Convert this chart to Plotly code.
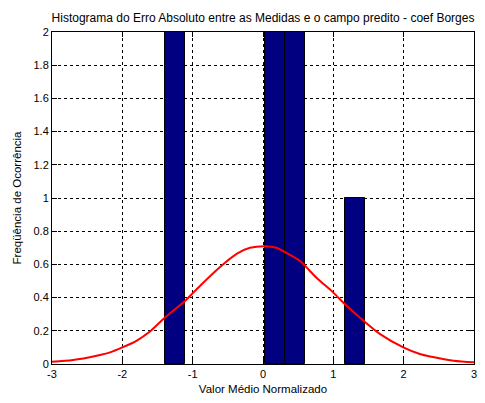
import plotly.graph_objects as go

# Histogram bins (centers) and counts
bin_centers = [-1.251, -0.967, -0.682, -0.398, -0.114, 0.171, 0.455, 0.739, 1.024, 1.308]
counts = [2, 0, 0, 0, 0, 2, 2, 0, 0, 1]
bin_width = 0.2843

# Fitted curve
curve_x = [-3.0, -2.70, -2.365, -2.175, -2.0, -1.80, -1.607, -1.393, -1.109, -0.99, -0.85, -0.61,
           -0.37, -0.185, 0.03, 0.19, 0.33, 0.526, 0.76, 1.0, 1.166, 1.43, 1.665, 1.995, 2.23,
           2.375, 2.71, 3.0]
curve_y = [0.014, 0.024, 0.05, 0.07, 0.10, 0.14, 0.196, 0.28, 0.38, 0.43, 0.49, 0.585,
           0.665, 0.70, 0.71, 0.70, 0.67, 0.62, 0.52, 0.43, 0.36, 0.26, 0.18, 0.10, 0.06,
           0.045, 0.02, 0.01]

x_ticks = [-3, -2, -1, 0, 1, 2, 3]
y_ticks = [0, 0.2, 0.4, 0.6, 0.8, 1, 1.2, 1.4, 1.6, 1.8, 2]

FONT = "Liberation Sans, Arial"

fig = go.Figure()
fig.add_trace(go.Bar(x=bin_centers, y=counts, width=bin_width,
                     marker=dict(color="#000080",
                                 line=dict(color="black",
                                           width=[1 if c > 0 else 0 for c in counts]))))
fig.add_trace(go.Scatter(x=curve_x, y=curve_y, mode="lines",
                         line=dict(color="#ff0000", width=2, shape="spline", smoothing=0.8)))

axis_common = dict(showline=True, linecolor="black", linewidth=1, mirror="ticks",
                   ticks="inside", ticklen=5, tickcolor="black", automargin=False,
                   ticklabeloverflow="allow",
                   showgrid=True, gridcolor="black", gridwidth=1, griddash="3px,3px",
                   zeroline=False, tickfont=dict(family=FONT, size=11, color="black"))

# page body adds an 8px margin, so the figure is sized to fit the 485x403 window exactly
fig.update_layout(
    width=469, height=387,
    margin=dict(l=44, r=3, t=24, b=31, autoexpand=False),
    paper_bgcolor="white", plot_bgcolor="white",
    showlegend=False,
    bargap=0,
    font=dict(family=FONT, size=11, color="black"),
    title=dict(text="Histograma do Erro Absoluto entre as Medidas e o campo predito - coef Borges",
               x=0.5, xref="paper", y=1, yref="paper", yanchor="bottom", pad=dict(b=10),
               font=dict(family=FONT, size=12, color="black")),
    xaxis=dict(range=[-3, 3], tickvals=x_ticks, ticktext=[str(v) for v in x_ticks],
               title=dict(text="Valor Médio Normalizado", standoff=6,
                          font=dict(family=FONT, size=11.5)),
               **axis_common),
    yaxis=dict(range=[0, 2], tickvals=y_ticks, ticktext=[f"{v:g}" for v in y_ticks],
               title=dict(text="Freqüência de Ocorrência", standoff=9,
                          font=dict(family=FONT, size=11.5)),
               **axis_common),
)

fig.write_html("out.html")
